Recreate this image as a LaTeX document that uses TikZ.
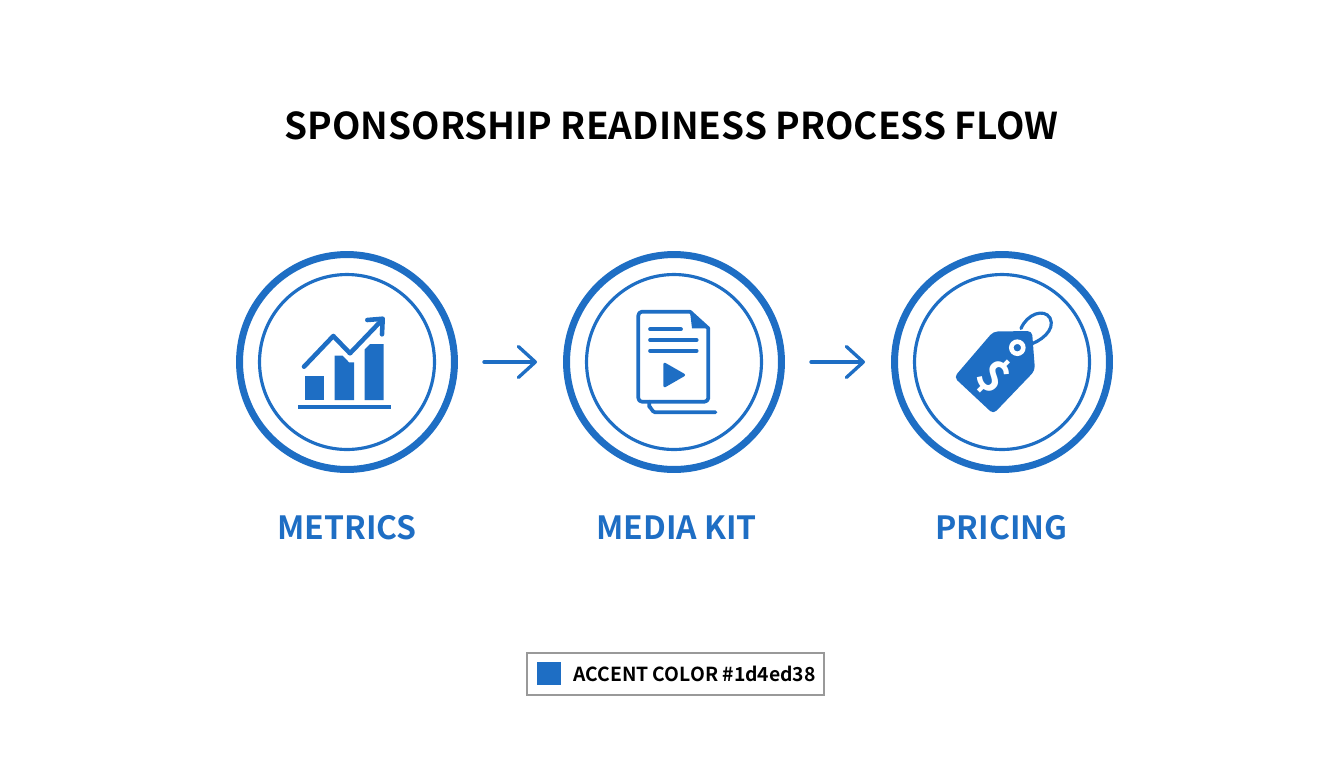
\documentclass[tikz,border=0pt]{standalone}
\usepackage{fontspec}
\setmainfont{Noto Sans CJK SC}[BoldFont={Noto Sans CJK SC Bold}]
\usetikzlibrary{arrows.meta}
\definecolor{accent}{HTML}{1E6EC4}
\tikzset{
  ringouter/.style={circle, draw=accent, line width=3.98pt, minimum size=4.3cm, inner sep=0pt},
  ringinner/.style={circle, draw=accent, line width=1.8pt, minimum size=3.5cm, inner sep=0pt},
  flowarrow/.style={draw=accent, line width=1.9pt, line cap=round, shorten <=0.52cm, shorten >=0.52cm, -{Straight Barb[length=3.4mm, width=6.2mm, round]}},
  steplabel/.style={text=accent, font=\fontsize{18.2}{21}\selectfont\bfseries},
  iconline/.style={draw=accent, line width=2.1pt, line cap=round, line join=round}
}
\begin{document}
\begin{tikzpicture}[x=0.02cm, y=-0.02cm]
\useasboundingbox (0,0) rectangle (1344,768);
\node (title) at (671.5,125.5) {\fontsize{21.04}{27}\selectfont\bfseries SPONSORSHIP READINESS PROCESS FLOW};
\node[ringouter] (metrics) at (347,362) {};
\node[ringinner] (metricsinner) at (347,362) {};
\node[ringouter] (mediakit) at (674,362) {};
\node[ringinner] (mediakitinner) at (674,362) {};
\node[ringouter] (pricing) at (1002,362) {};
\node[ringinner] (pricinginner) at (1002,362) {};
\draw[flowarrow] (metrics) -- (mediakit);
\draw[flowarrow] (mediakit) -- (pricing);
\node[steplabel] (metricslabel) at (347,528) {METRICS};
\node[steplabel] (mediakitlabel) at (676.5,528) {MEDIA KIT};
\node[steplabel] (pricinglabel) at (1001.5,528) {PRICING};
\fill[accent] (305.3,376) -- (324.3,376) -- (324.3,400) -- (305.3,400) -- cycle;
\fill[accent] (334.7,400) -- (334.7,355.7) -- (342.7,355.7) -- (349,362.3) -- (354,362.3) -- (354,400) -- cycle;
\fill[accent] (364.7,400) -- (364.7,349.3) -- (370,344) -- (383.7,344) -- (383.7,400) -- cycle;
\fill[accent] (298.3,404.7) -- (390.7,404.7) -- (390.7,409) -- (298.3,409) -- cycle;
\draw[iconline, line width=2.6pt] (304,366.7) -- (333.3,336) -- (350,353.3) -- (381,321);
\draw[iconline, line width=2.6pt] (367.3,320) -- (382.7,318.7) -- (382,334.3);
\draw[iconline] (690,311.7) -- (642,311.7) to[out=180, in=90] (638.3,315.5) -- (638.3,398) to[out=270, in=180] (642,401.7) -- (704.5,401.7) to[out=0, in=270] (708.3,398) -- (708.3,328.3) -- cycle;
\fill[accent] (690,311.7) -- (708.3,328.3) -- (692,328.3) -- cycle;
\draw[iconline] (650,329.3) -- (681,329.3);
\draw[iconline] (650,340) -- (696.7,340);
\draw[iconline] (650,350.7) -- (696.7,350.7);
\fill[accent, rounded corners=1.5pt] (663.3,361.7) -- (686.5,375) -- (663.3,388.3) -- cycle;
\draw[iconline] (649.3,401.7) -- (649.3,407) to[out=90, in=180] (655,412.3) -- (715.5,412.3);
\fill[accent, rounded corners=2.5pt] (954,377.3) -- (993.3,331.5) -- (1032,331) -- (1035,370.5) -- (993.3,414) -- cycle;
\draw[white, line width=2.6pt, fill=accent] (1017.3,347.7) circle (6);
\draw[accent, line width=1.8pt, line cap=round] (1021,328.5) .. controls (1027,314) and (1044,308) .. (1050,318) .. controls (1056,330) and (1040,342) .. (1028,345);
\node[text=white, rotate=-45, inner sep=0pt] (dollar) at (993.5,376) {\fontsize{25}{30}\selectfont\bfseries\$};
\draw[draw=black!40, line width=1.1pt, fill=white] (526.7,653.3) rectangle (824,695);
\fill[accent] (537.3,662.3) rectangle (561,685.3);
\node[anchor=west, inner sep=0pt] (legendlabel) at (573,674) {\fontsize{11}{14}\selectfont\bfseries ACCENT COLOR \#1d4ed38};
\end{tikzpicture}
\end{document}
